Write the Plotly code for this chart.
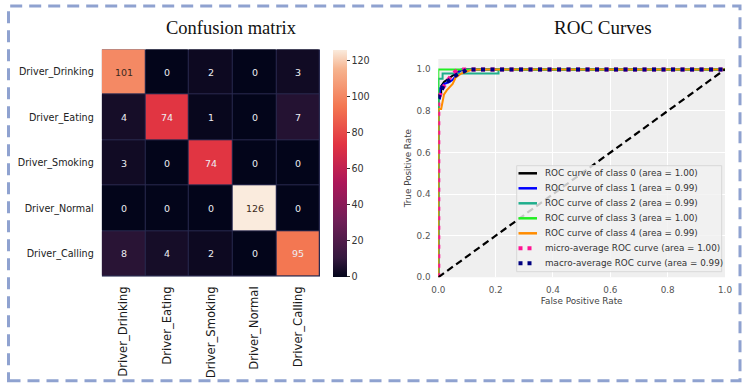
import plotly.graph_objects as go

W, H = 746, 388

# ---------------- data ----------------
classes = ["Driver_Drinking", "Driver_Eating", "Driver_Smoking", "Driver_Normal", "Driver_Calling"]
cm = [
    [101, 0, 2, 0, 3],
    [4, 74, 1, 0, 7],
    [3, 0, 74, 0, 0],
    [0, 0, 0, 126, 0],
    [8, 4, 2, 0, 95],
]
cbar_ticks = [0, 20, 40, 60, 80, 100, 120]

fpr_c0 = [0, 0, 0.01, 0.01, 0.02, 0.03, 0.05, 0.07, 0.09, 1.0]
tpr_c0 = [0, 0.88, 0.88, 0.92, 0.94, 0.95, 0.97, 0.99, 1.0, 1.0]
fpr_c1 = [0, 0, 0.006, 0.006, 0.02, 0.04, 0.05, 0.07, 0.08, 1.0]
tpr_c1 = [0, 0.86, 0.86, 0.91, 0.93, 0.94, 0.95, 0.98, 1.0, 1.0]
fpr_c2 = [0, 0, 0.015, 0.015, 0.21, 0.21, 1.0]
tpr_c2 = [0, 0.955, 0.955, 0.98, 0.98, 1.0, 1.0]
fpr_c3 = [0, 0, 1.0]
tpr_c3 = [0, 1.0, 1.0]
fpr_c4 = [0, 0, 0.01, 0.015, 0.02, 0.03, 0.05, 0.06, 0.08, 0.1, 0.12, 1.0]
tpr_c4 = [0, 0.81, 0.81, 0.84, 0.88, 0.9, 0.93, 0.96, 0.98, 0.99, 1.0, 1.0]
fpr_micro = [0, 0, 0.005, 0.01, 0.02, 0.03, 0.04, 0.05, 0.06, 0.07, 1.0]
tpr_micro = [0, 0.84, 0.87, 0.9, 0.92, 0.94, 0.96, 0.98, 0.99, 1.0, 1.0]
fpr_macro = [0, 0.01, 0.02, 0.03, 0.05, 0.07, 0.09, 0.1, 1.0]
tpr_macro = [0.86, 0.9, 0.93, 0.94, 0.96, 0.98, 0.99, 1.0, 1.0]
auc_classes = [1.00, 0.99, 0.99, 1.00, 0.99]
auc_micro = 1.00
auc_macro = 0.99
diag = [0, 1]
roc_ticks = [0, 0.2, 0.4, 0.6, 0.8, 1.0]

# ---------------- styles ----------------
rocket = [[0, "#03051A"], [1 / 12, "#35193E"], [3 / 12, "#701F57"], [5 / 12, "#AD1759"],
          [7 / 12, "#E13342"], [9 / 12, "#F37651"], [11 / 12, "#F6B48F"], [1, "#FAEBDD"]]
class_colors = ["#000000", "#0000FF", "#1FAE8C", "#22EE22", "#FF8C00"]
SANS = "DejaVu Sans"
SERIF = "Liberation Serif"


def px(x):
    return x / W


def py(y):
    return 1 - y / H


fig = go.Figure()

# ---------------- confusion matrix ----------------
fig.add_trace(go.Heatmap(
    z=cm, x=classes, y=classes, zmin=0, zmax=126, colorscale=rocket,
    xgap=1, ygap=1, xaxis="x", yaxis="y", hoverinfo="skip",
    colorbar=dict(
        thickness=14, lenmode="pixels", len=227, x=px(333), xanchor="left",
        y=py(276.7), yanchor="bottom", xpad=0, ypad=0, outlinewidth=0,
        tickvals=cbar_ticks, ticks="outside", ticklen=3, tickwidth=1, tickcolor="#333",
        tickfont=dict(family=SANS, size=9.6, color="#333"),
    ),
))

annotations = []
for i, row in enumerate(cm):
    for j, v in enumerate(row):
        annotations.append(dict(
            x=classes[j], y=classes[i], xref="x", yref="y", text=str(v), showarrow=False,
            font=dict(family=SANS, size=9.5, color="#3b2a20" if v >= 100 else "#EDEDF2"),
        ))

# ---------------- ROC curves ----------------
roc_sets = [(fpr_c0, tpr_c0), (fpr_c1, tpr_c1), (fpr_c2, tpr_c2), (fpr_c3, tpr_c3), (fpr_c4, tpr_c4)]
legend_labels = []
legend_styles = []
for k, (f, t) in enumerate(roc_sets):
    lab = "ROC curve of class %d (area = %.2f)" % (k, auc_classes[k])
    fig.add_trace(go.Scatter(x=f, y=t, mode="lines", xaxis="x2", yaxis="y2",
                             line=dict(color=class_colors[k], width=2), name=lab,
                             showlegend=False, hoverinfo="skip"))
    legend_labels.append(lab)
    legend_styles.append((class_colors[k], 2.5, "solid"))

lab_micro = "micro-average ROC curve (area = %.2f)" % auc_micro
lab_macro = "macro-average ROC curve (area = %.2f)" % auc_macro
fig.add_trace(go.Scatter(x=fpr_micro, y=tpr_micro, mode="lines", xaxis="x2", yaxis="y2",
                         line=dict(color="#FF1493", width=4, dash="4px,5.5px"), name=lab_micro,
                         showlegend=False, hoverinfo="skip"))
fig.add_trace(go.Scatter(x=fpr_macro, y=tpr_macro, mode="lines", xaxis="x2", yaxis="y2",
                         line=dict(color="#000080", width=4, dash="4px,5.5px"), name=lab_macro,
                         showlegend=False, hoverinfo="skip"))
legend_labels += [lab_micro, lab_macro]
legend_styles += [("#FF1493", 4, "4px,5px"), ("#000080", 4, "4px,5px")]

fig.add_trace(go.Scatter(x=diag, y=diag, mode="lines", xaxis="x2", yaxis="y2",
                         line=dict(color="#000000", width=2.2, dash="7px,4px"),
                         showlegend=False, hoverinfo="skip"))

shapes = []
# dark lines between heatmap cells
shapes.append(dict(type="rect", xref="x", yref="y", x0=-0.5, x1=4.5, y0=-0.5, y1=4.5,
                   fillcolor="#2A2B50", line=dict(width=0), layer="below"))
# ROC panel background
shapes.append(dict(type="rect", xref="x2 domain", yref="y2 domain", x0=0, x1=1, y0=0, y1=1,
                   fillcolor="#EFEFEF", line=dict(width=0), layer="below"))

# legend box
lx0, lx1, ly0, ly1 = 516.7, 721.7, 165.7, 271.7
shapes.append(dict(type="rect", xref="paper", yref="paper", x0=px(lx0), x1=px(lx1),
                   y0=py(ly1), y1=py(ly0), fillcolor="rgba(242,242,242,0.82)",
                   line=dict(color="#D8D8D8", width=1), layer="above"))
for i, (lab, (col, lw, dsh)) in enumerate(zip(legend_labels, legend_styles)):
    yc = ly0 + 7.6 + 15 * i
    x_end = 537 if dsh == "solid" else 532
    shapes.append(dict(type="line", xref="paper", yref="paper", x0=px(518.5), x1=px(x_end),
                       y0=py(yc), y1=py(yc), line=dict(color=col, width=lw, dash=dsh), layer="above"))
    annotations.append(dict(x=px(543), y=py(yc), xref="paper", yref="paper", text=lab,
                            showarrow=False, xanchor="left", yanchor="middle",
                            font=dict(family=SANS, size=8.8, color="#333")))

# outer dashed frame
shapes.append(dict(type="rect", xref="paper", yref="paper", x0=px(8.5), x1=px(740),
                   y0=py(380.7), y1=py(6), line=dict(color="#8FA2D0", width=3, dash="12px,7px"),
                   fillcolor="rgba(0,0,0,0)", layer="above"))

# titles
annotations.append(dict(x=px(231.7), y=py(28), xref="paper", yref="paper", text="Confusion matrix",
                        showarrow=False, xanchor="center", yanchor="middle",
                        font=dict(family=SERIF, size=18.5, color="#111")))
annotations.append(dict(x=px(602.8), y=py(28), xref="paper", yref="paper", text="ROC Curves",
                        showarrow=False, xanchor="center", yanchor="middle",
                        font=dict(family=SERIF, size=19, color="#111")))

fig.update_layout(
    width=W, height=H, margin=dict(l=0, r=0, t=0, b=0, autoexpand=False),
    paper_bgcolor="white", plot_bgcolor="white", showlegend=False,
    xaxis=dict(domain=[px(101.7), px(320)], anchor="y", showgrid=False, zeroline=False,
               automargin=False,
               tickangle=-90, ticks="outside", ticklen=4, tickcolor="rgba(0,0,0,0)",
               tickfont=dict(family=SANS, size=11.6, color="#1a1a1a"), showline=False),
    yaxis=dict(domain=[py(276.7), py(49.3)], anchor="x", showgrid=False, zeroline=False,
               automargin=False,
               autorange="reversed", ticks="outside", ticklen=5, tickcolor="rgba(0,0,0,0)",
               tickfont=dict(family=SANS, size=9.6, color="#222"), showline=False),
    xaxis2=dict(domain=[px(438.3), px(725)], anchor="y2", range=[0, 1], tickvals=roc_ticks,
                automargin=False,
                tickformat=".1f", showgrid=True, gridcolor="white", gridwidth=1, zeroline=False,
                ticks="outside", ticklen=4, tickcolor="rgba(0,0,0,0)",
                tickfont=dict(family=SANS, size=8.8, color="#555"),
                title=dict(text="False Positive Rate", standoff=3,
                           font=dict(family=SANS, size=8.8, color="#444"))),
    yaxis2=dict(domain=[py(277.3), py(59)], anchor="x2", range=[0, 1.05], tickvals=roc_ticks,
                automargin=False,
                tickformat=".1f", showgrid=True, gridcolor="white", gridwidth=1, zeroline=False,
                ticks="outside", ticklen=5, tickcolor="rgba(0,0,0,0)",
                tickfont=dict(family=SANS, size=8.8, color="#555"),
                title=dict(text="True Positive Rate", standoff=3,
                           font=dict(family=SANS, size=8.8, color="#444"))),
    shapes=shapes, annotations=annotations,
)

fig.write_html("out.html", config={"displayModeBar": False},
               post_script="document.body.style.margin='0px';")
